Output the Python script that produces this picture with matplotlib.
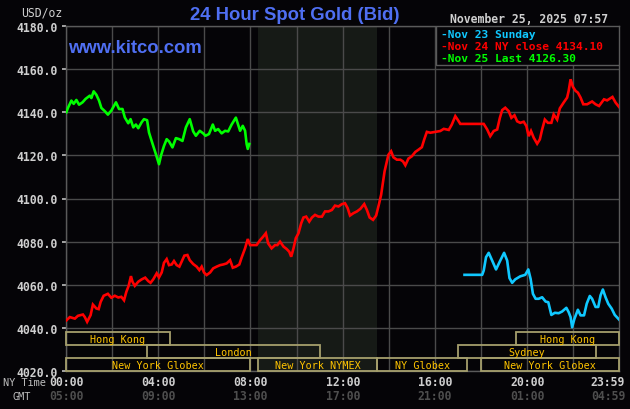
import matplotlib
matplotlib.use("Agg")
import matplotlib.pyplot as plt
from matplotlib.patches import Rectangle
import matplotlib.transforms as mtransforms

# ---------------- data ----------------
# minutes after 00:00 NY time, spot price (USD/oz)
red_minutes = [1, 10, 23, 31, 44, 49, 55, 64, 70, 79, 85, 90, 98, 109, 118, 127, 136, 144, 151, 157,
               163, 169, 173, 179, 188, 197, 206, 214, 220, 227, 236, 242, 249, 255, 262, 268, 275, 281,
               288, 295, 301, 308, 316, 322, 331, 340, 347, 353, 359, 366, 375, 383, 392, 401, 409, 418,
               427, 434, 442, 451, 457, 466, 473, 479, 487, 496, 505, 513, 520, 526, 535, 544, 550, 557,
               566, 574, 581, 586, 592, 598, 605, 612, 618, 625, 633, 640, 648, 657, 666, 674, 683, 692,
               700, 709, 718, 726, 733, 739, 748, 757, 766, 776, 783, 790, 799, 807, 814, 820, 825, 829,
               835, 839, 846, 852, 861, 870, 877, 883, 891, 900, 909, 917, 926, 932, 939, 948, 961, 974,
               983, 996, 1004, 1013, 1019, 1026, 1087, 1096, 1104, 1113, 1122, 1129, 1135, 1143, 1152,
               1159, 1167, 1174, 1182, 1191, 1198, 1204, 1210, 1217, 1226, 1233, 1239, 1246, 1254, 1263,
               1269, 1278, 1285, 1295, 1304, 1308, 1313, 1319, 1326, 1332, 1339, 1346, 1356, 1369, 1378,
               1387, 1400, 1408, 1422, 1430, 1439]
red_values = [4043.5, 4045.0, 4044.3, 4045.6, 4046.2, 4045.0, 4042.8, 4045.9, 4050.8, 4049.0, 4048.7,
              4052.0, 4054.9, 4055.8, 4054.0, 4054.9, 4054.1, 4054.4, 4052.8, 4056.7, 4059.5, 4064.0,
              4061.4, 4059.5, 4061.4, 4062.5, 4063.3, 4061.7, 4060.9, 4062.5, 4065.3, 4063.4, 4065.7,
              4070.2, 4071.9, 4069.1, 4069.4, 4071.0, 4069.1, 4068.4, 4070.7, 4073.5, 4073.8, 4071.4,
              4069.6, 4068.4, 4066.8, 4068.4, 4065.7, 4064.5, 4065.7, 4067.6, 4068.4, 4069.1, 4069.4,
              4069.9, 4071.4, 4067.9, 4068.4, 4069.4, 4072.6, 4076.9, 4081.2, 4078.4, 4078.4, 4078.4,
              4080.7, 4082.3, 4083.9, 4079.2, 4076.9, 4078.4, 4078.4, 4080.0, 4077.7, 4076.6, 4075.3,
              4073.0, 4076.9, 4081.6, 4083.9, 4088.5, 4091.2, 4091.6, 4089.3, 4091.2, 4092.4, 4091.6,
              4091.6, 4094.0, 4094.0, 4094.7, 4096.7, 4096.3, 4097.4, 4097.8, 4095.5, 4092.1, 4093.2,
              4094.0, 4095.2, 4097.4, 4094.7, 4091.2, 4090.1, 4092.1, 4097.1, 4101.7, 4107.9, 4112.6,
              4117.2, 4120.3, 4121.9, 4119.1, 4118.0, 4118.0, 4117.2, 4115.4, 4118.5, 4119.6, 4121.6,
              4122.6, 4123.8, 4127.3, 4130.9, 4130.5, 4130.9, 4131.3, 4132.3, 4131.8, 4134.3, 4138.2,
              4136.6, 4134.6, 4134.6, 4132.0, 4128.9, 4131.3, 4132.0, 4137.4, 4141.0, 4142.1, 4140.5,
              4137.4, 4138.6, 4135.8, 4135.1, 4135.6, 4133.6, 4128.9, 4131.3, 4128.2, 4125.4, 4127.4,
              4132.0, 4136.6, 4135.1, 4135.1, 4139.0, 4136.6, 4141.8, 4144.5, 4146.8, 4149.9, 4155.3,
              4151.8, 4149.9, 4149.1, 4146.8, 4143.7, 4143.7, 4145.0, 4143.7, 4142.9, 4146.0, 4145.5,
              4147.1, 4144.5, 4142.5]

cyan_minutes = [1037, 1083, 1087, 1093, 1100, 1109, 1119, 1130, 1140, 1148, 1154, 1161, 1169, 1182,
                1195, 1203, 1209, 1215, 1222, 1230, 1239, 1248, 1255, 1263, 1272, 1282, 1291, 1302,
                1308, 1313, 1317, 1323, 1332, 1339, 1348, 1355, 1363, 1369, 1378, 1385, 1391, 1397,
                1404, 1411, 1420, 1428, 1439]
cyan_values = [4064.6, 4064.6, 4066.6, 4072.8, 4074.8, 4071.2, 4067.1, 4071.2, 4074.8, 4071.2, 4063.1,
               4060.9, 4062.5, 4063.9, 4064.6, 4067.1, 4062.7, 4055.8, 4053.5, 4053.5, 4054.2, 4052.2,
               4051.9, 4046.0, 4047.0, 4046.8, 4047.6, 4049.3, 4047.3, 4045.0, 4040.3, 4044.2, 4048.4,
               4045.8, 4045.8, 4051.2, 4054.8, 4053.5, 4049.7, 4049.7, 4055.1, 4057.8, 4054.2, 4051.2,
               4048.9, 4046.0, 4043.9]

green_minutes = [1, 5, 14, 20, 27, 34, 43, 51, 62, 66, 72, 79, 86, 92, 101, 109, 118, 130, 138, 147,
                 153, 162, 168, 175, 182, 188, 197, 203, 211, 216, 225, 234, 242, 247, 255, 262, 268,
                 277, 286, 295, 303, 312, 322, 331, 338, 348, 357, 363, 372, 382, 388, 396, 405, 414,
                 422, 431, 442, 453, 460, 466, 470, 473, 477]
green_values = [4140.0, 4142.0, 4145.4, 4143.9, 4145.7, 4143.5, 4144.6, 4146.2, 4147.7, 4146.6, 4149.7,
                4148.1, 4145.4, 4142.0, 4140.5, 4138.9, 4140.8, 4144.6, 4141.5, 4141.5, 4137.6, 4134.9,
                4136.8, 4133.0, 4134.3, 4132.6, 4135.4, 4136.8, 4136.3, 4130.6, 4125.5, 4120.5, 4115.9,
                4119.8, 4124.4, 4127.5, 4126.5, 4123.7, 4128.0, 4127.5, 4126.7, 4133.0, 4136.8, 4131.1,
                4129.1, 4131.4, 4130.2, 4129.1, 4129.9, 4134.3, 4131.4, 4132.2, 4130.2, 4131.4, 4131.1,
                4134.3, 4137.5, 4131.4, 4133.7, 4131.4, 4125.3, 4123.0, 4125.3]

legend_labels = ["-Nov 23 Sunday", "-Nov 24 NY close 4134.10", "-Nov 25 Last 4126.30"]

session_names = ["Hong Kong", "Hong Kong", "London", "Sydney",
                 "New York Globex", "New York NYMEX", "NY Globex", "New York Globex"]
session_start = [0, 1170, 210, 1020, 0, 500, 810, 1080]
session_end = [270, 1439, 660, 1380, 480, 810, 1044, 1439]
session_row = [0, 0, 1, 1, 2, 2, 2, 2]

x_tick_minutes = [0, 240, 480, 720, 960, 1200, 1439]
ny_labels = ["00:00", "04:00", "08:00", "12:00", "16:00", "20:00", "23:59"]
gmt_labels = ["05:00", "09:00", "13:00", "17:00", "21:00", "01:00", "04:59"]
y_ticks = [4020, 4040, 4060, 4080, 4100, 4120, 4140, 4160, 4180]

title = "24 Hour Spot Gold (Bid)"
site = "www.kitco.com"
stamp = "November 25, 2025 07:57"

# ---------------- style ----------------
BG = "#050407"
GRID = "#4a4a4a"
BLUE = "#4f6ff2"
TXT = "#cfcfcf"
MONO = "DejaVu Sans Mono"
W, H = 630, 410

fig = plt.figure(figsize=(6.3, 4.1), dpi=100, facecolor=BG)
ax = fig.add_axes([66 / W, 38 / H, 553 / W, 345 / H], facecolor=BG)
ax.set_xlim(0, 1439)
ax.set_ylim(4020, 4180)

# NYMEX shading
i_nymex = session_names.index("New York NYMEX")
ax.axvspan(session_start[i_nymex], session_end[i_nymex], color="#161a16", zorder=0, lw=0)

ax.set_xticks(range(0, 1440, 120))
ax.set_yticks(y_ticks)
ax.grid(True, color=GRID, lw=1.0, zorder=1)
ax.set_axisbelow(True)
for s in ax.spines.values():
    s.set_color("#5a5a5a")
    s.set_linewidth(1.0)
ax.tick_params(axis="x", length=0, labelbottom=False)
ax.tick_params(axis="y", length=3, width=1.2, color="#bdbdbd", colors=TXT, pad=3)
ax.set_yticklabels([f"{v:.1f}" for v in y_ticks])
for lab in ax.get_yticklabels():
    lab.set_fontfamily(MONO)
    lab.set_fontweight("bold")
    lab.set_fontsize(8.3)

# series
ax.plot(red_minutes, red_values, color="#ff0000", lw=1.9, zorder=3, solid_joinstyle="miter")
ax.plot(cyan_minutes, cyan_values, color="#10c8ff", lw=1.9, zorder=3)
ax.plot(green_minutes, green_values, color="#00ff00", lw=1.9, zorder=3)

# session boxes
trans = mtransforms.blended_transform_factory(ax.transData, ax.transAxes)
row_bounds = [(0.0762, 0.112), (0.0368, 0.0762), (0.0, 0.0368)]
for name, s0, s1, r in zip(session_names, session_start, session_end, session_row):
    y0, y1 = row_bounds[r]
    ax.add_patch(Rectangle((s0, y0), s1 - s0, y1 - y0, transform=trans, facecolor="none",
                           edgecolor="#a59f6c", lw=1.3, zorder=4, clip_on=False))
    ax.text((s0 + s1) / 2, (y0 + y1) / 2 - 0.002, name, transform=trans, ha="center", va="center",
            color="#ffc400", fontsize=7.3, family=MONO, zorder=5)

# legend box
ax.add_patch(Rectangle((0.6685, 0.887), 0.3315, 0.113, transform=ax.transAxes, facecolor=BG,
                       edgecolor="#5a5a5a", lw=1.0, zorder=6))
leg_colors = ["#10c8ff", "#ff0000", "#00ff00"]
for k, (lab, c) in enumerate(zip(legend_labels, leg_colors)):
    fig.text(441 / W, 1 - (34.5 + 12.2 * k) / H, lab, color=c, fontsize=8.1, family=MONO,
             fontweight="bold", ha="left", va="center", zorder=7)

# titles
fig.text(295 / W, 1 - 16 / H, title, color=BLUE, fontsize=13.3, fontweight="bold",
         family="Liberation Sans", ha="center", va="center")
fig.text(68 / W, 1 - 48.5 / H, site, color=BLUE, fontsize=13.3, fontweight="bold",
         family="Liberation Sans", ha="left", va="center")
fig.text(608 / W, 1 - 19.5 / H, stamp, color=TXT, fontsize=8.3, family=MONO, fontweight="bold",
         ha="right", va="center")
fig.text(62 / W, 1 - 13 / H, "USD/oz", color=TXT, fontsize=8.3, family=MONO,
         ha="right", va="center")

# x labels (two rows)
xt = mtransforms.blended_transform_factory(ax.transData, fig.transFigure)
for m, a, b in zip(x_tick_minutes, ny_labels, gmt_labels):
    off = -11 if m == x_tick_minutes[-1] else 0
    ax.annotate(a, (m, 1 - 383 / H), xycoords=xt, xytext=(off, 0), textcoords="offset pixels",
                ha="center", va="center", color=TXT, fontsize=8.3, family=MONO, fontweight="bold",
                annotation_clip=False)
    ax.annotate(b, (m, 1 - 397 / H), xycoords=xt, xytext=(off, 0), textcoords="offset pixels",
                ha="center", va="center", color="#4e4e4e", fontsize=8.3, family=MONO, fontweight="bold",
                annotation_clip=False)
fig.text(3 / W, 1 - 383.5 / H, "NY Time", color="#bdbdbd", fontsize=7.4, family=MONO,
         ha="left", va="center")
fig.text(12 / W, 1 - 397.5 / H, "GMT", color="#bdbdbd", fontsize=7.4, family=MONO,
         ha="left", va="center")

fig.savefig("out.png", dpi=100, facecolor=BG)
